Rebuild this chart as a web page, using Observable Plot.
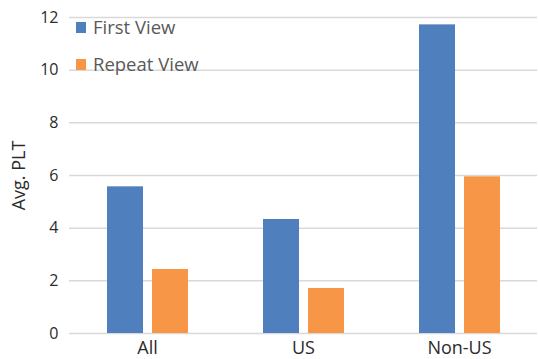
<!DOCTYPE html>
<html>
<head>
<meta charset="utf-8">
<script src="https://cdn.jsdelivr.net/npm/d3@7"></script>
<script src="https://cdn.jsdelivr.net/npm/@observablehq/plot@0.6"></script>
<style>
  html, body { margin: 0; padding: 0; background: #fff; }
  #chart { position: relative; width: 538px; height: 359px; font-family: "Open Sans", sans-serif; }
  #chart svg { display: block; }
  .legend { position: absolute; left: 76px; top: 14px; color: #595959; font-size: 18.5px; }
  .legend .item { position: relative; height: 37px; line-height: 26px; padding-left: 17px; white-space: nowrap; }
  .legend .swatch { position: absolute; left: 0; top: 8px; width: 10px; height: 11px; }
</style>
</head>
<body>
<div id="chart"></div>
<script>
// Average page load time (seconds) by region, first vs repeat view
const regions = ["All", "US", "Non-US"];
const series = ["First View", "Repeat View"];
const firstView = [5.57, 4.33, 11.72];
const repeatView = [2.43, 1.71, 5.95];
const yTicks = [0, 2, 4, 6, 8, 10, 12];
const colors = ["#4F7FBD", "#F79646"];

const rows = regions.flatMap((region, i) => [
  { region, series: series[0], value: firstView[i] },
  { region, series: series[1], value: repeatView[i] }
]);

const chart = Plot.plot({
  width: 538,
  height: 359,
  marginTop: 17,
  marginBottom: 26,
  marginLeft: 69,
  marginRight: 1,
  style: { fontFamily: "Open Sans, sans-serif", fontSize: "16px", color: "#2b2b2b" },
  fx: { domain: regions, padding: 0, label: null },
  x: { domain: series, paddingInner: 0.2, paddingOuter: 0.82, axis: null },
  y: { domain: [0, 12] },
  color: { domain: series, range: colors },
  marks: [
    Plot.ruleY(yTicks, { stroke: "#d9d9d9", strokeWidth: 1.5 }),
    Plot.barY(rows, { fx: "region", x: "series", y: "value", fill: "series" }),
    Plot.axisY({ ticks: yTicks, tickSize: 0, tickPadding: 11, fontSize: 16, label: null }),
    Plot.axisY({
      ticks: [], tickSize: 0, fontSize: 18,
      label: "Avg. PLT", labelAnchor: "center", labelArrow: "none", labelOffset: 57
    }),
    Plot.axisFx({ anchor: "bottom", tickSize: 0, tickPadding: 8, fontSize: 18, label: null })
  ]
});

const root = document.getElementById("chart");
root.appendChild(chart);

// Legend drawn over the top-left of the plot area
const legend = document.createElement("div");
legend.className = "legend";
series.forEach((name, i) => {
  const item = document.createElement("div");
  item.className = "item";
  const sw = document.createElement("span");
  sw.className = "swatch";
  sw.style.background = colors[i];
  item.appendChild(sw);
  item.appendChild(document.createTextNode(name));
  legend.appendChild(item);
});
root.appendChild(legend);
</script>
</body>
</html>
